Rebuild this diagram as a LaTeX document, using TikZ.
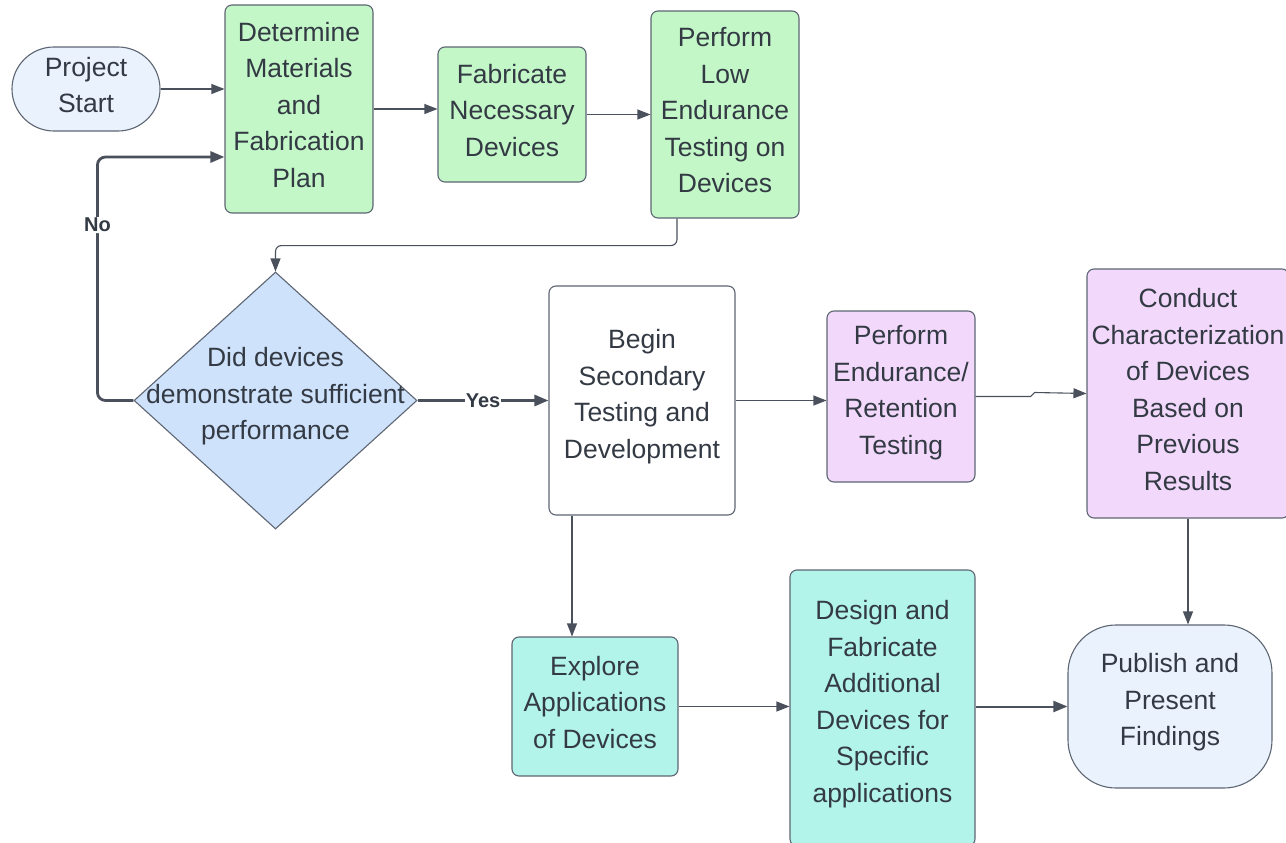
\documentclass[tikz,border=0pt]{standalone}
\usepackage{fontspec}
\setmainfont{Liberation Sans}
\usetikzlibrary{shapes.geometric,arrows.meta}

\definecolor{ink}{HTML}{333A44}
\definecolor{edge}{HTML}{5E6673}
\definecolor{wire}{HTML}{4A505C}
\definecolor{termfill}{HTML}{EAF2FD}
\definecolor{greenfill}{HTML}{C3F7C8}
\definecolor{bluefill}{HTML}{CFE2FB}
\definecolor{pinkfill}{HTML}{F2D9FB}
\definecolor{tealfill}{HTML}{B3F4EA}

\tikzset{
  bodytext/.style={text=ink, align=center, font=\fontsize{26.5}{36.5}\selectfont, inner sep=0pt},
  txt/.style={label={[bodytext, yshift=4pt]center:{#1}}},
  base/.style={draw=edge, line width=1.1pt, inner sep=0pt},
  procbox/.style={base, rounded corners=7pt},
  terminal/.style={base, rounded corners=42pt},
  finalterm/.style={base, rounded corners=48pt},
  decision/.style={base, diamond, fill=bluefill},
  flow/.style={draw=wire, line width=1.1pt, -{Triangle[length=13pt,width=10pt]}},
  heavy/.style={draw=wire, line width=2.8pt, -{Triangle[length=14pt,width=11pt]}},
  medium/.style={draw=wire, line width=2pt, -{Triangle[length=14pt,width=11pt]}},
  tag/.style={fill=white, text=ink, inner sep=1pt, font=\fontsize{20}{22}\selectfont\bfseries}
}

\begin{document}
\begin{tikzpicture}[x=1pt,y=-1pt]
\useasboundingbox[fill=white] (0,0) rectangle (1286,843);

% top row
\node[terminal, fill=termfill, minimum width=148pt, minimum height=84pt,
  txt={Project\\Start}] (start) at (86,89) {};
\node[procbox, fill=greenfill, minimum width=148pt, minimum height=208pt,
  txt={Determine\\Materials\\and\\Fabrication\\Plan}] (det) at (299,109) {};
\node[procbox, fill=greenfill, minimum width=148pt, minimum height=135pt,
  txt={Fabricate\\Necessary\\Devices}] (fab) at (512,114.5) {};
\node[procbox, fill=greenfill, minimum width=148pt, minimum height=207pt,
  txt={Perform\\Low\\Endurance\\Testing on\\Devices}] (plow) at (725,114.5) {};

% decision
\node[decision, minimum width=283pt, minimum height=257pt,
  txt={Did devices\\demonstrate sufficient\\performance}] (dec) at (275.5,400.5) {};

% middle row
\node[procbox, fill=white, minimum width=186pt, minimum height=229pt,
  txt={Begin\\Secondary\\Testing and\\Development}] (begin) at (642,400.5) {};
\node[procbox, fill=pinkfill, minimum width=148pt, minimum height=171pt,
  txt={Perform\\Endurance/\\Retention\\Testing}] (pend) at (901,396.5) {};
\node[procbox, fill=pinkfill, minimum width=202pt, minimum height=249pt,
  txt={Conduct\\Characterization\\of Devices\\Based on\\Previous\\Results}] (conduct) at (1188,393.5) {};

% bottom row
\node[procbox, fill=tealfill, minimum width=166pt, minimum height=139pt,
  txt={Explore\\Applications\\of Devices}] (explore) at (595,706.5) {};
\node[procbox, fill=tealfill, minimum width=185pt, minimum height=276pt,
  txt={Design and\\Fabricate\\Additional\\Devices for\\Specific\\applications}] (design) at (882.5,708) {};
\node[finalterm, fill=termfill, minimum width=204pt, minimum height=163pt,
  txt={Publish and\\Present\\Findings}] (pub) at (1170,706.5) {};

% connectors
\draw[flow] (start.east) -- (start.east -| det.west);
\draw[flow] (det.east) -- (det.east -| fab.west);
\draw[flow] (fab.east) -- (fab.east -| plow.west);
\draw[flow, rounded corners=6pt] ([xshift=-48pt]plow.south) -- ++(0,27) -| (dec.north);

\draw[heavy, rounded corners=8pt] (dec.west) -- ++(-36,0) |- ([yshift=-48pt]det.west)
  node[tag, pos=0.36] {No};
\draw[heavy] (dec.east) -- (dec.east -| begin.west) node[tag, pos=0.5] {Yes};

\draw[flow] (begin.east) -- (begin.east -| pend.west);
\draw[flow] (pend.east) -- ++(55,0) -- ++(4,-4) -- (conduct.west);
\draw[flow] ([xshift=-70pt]begin.south) -- ([xshift=-70pt]begin.south |- explore.north);
\draw[flow] (explore.east) -- (explore.east -| design.west);
\draw[medium] (design.east |- pub.west) -- (pub.west);
\draw[flow] (conduct.south) -- (conduct.south |- pub.north);
\end{tikzpicture}
\end{document}
